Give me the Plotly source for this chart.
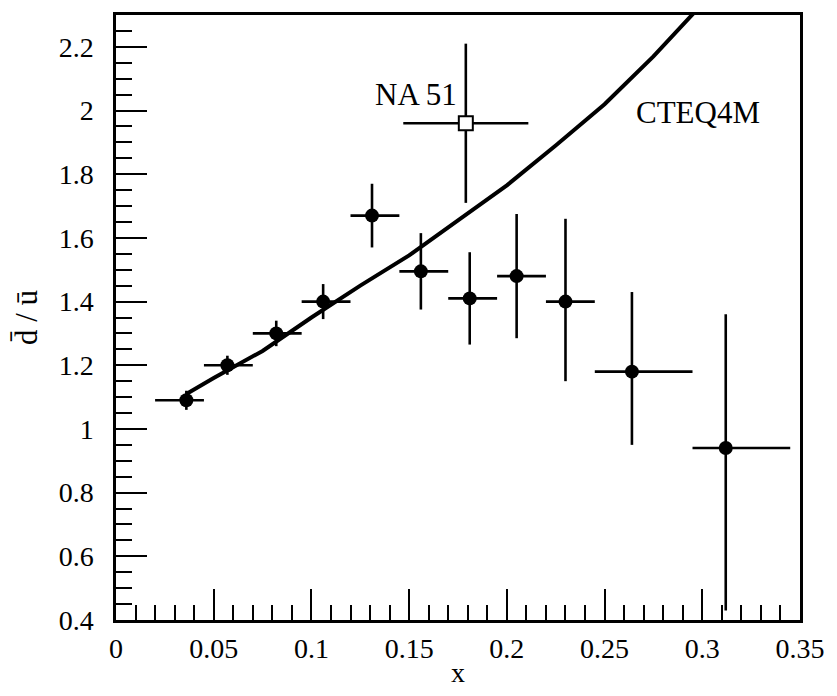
import plotly.graph_objects as go

# E866 data points
x_pts = [0.036, 0.057, 0.082, 0.106, 0.131, 0.156, 0.181, 0.205, 0.230, 0.264, 0.312]
y_pts = [1.09, 1.20, 1.30, 1.40, 1.67, 1.495, 1.41, 1.48, 1.40, 1.18, 0.94]
y_err_plus = [0.03, 0.03, 0.04, 0.055, 0.10, 0.12, 0.145, 0.195, 0.26, 0.25, 0.42]
y_err_minus = [0.03, 0.03, 0.04, 0.055, 0.10, 0.12, 0.145, 0.195, 0.25, 0.23, 0.51]
x_lo = [0.020, 0.045, 0.070, 0.095, 0.120, 0.145, 0.170, 0.195, 0.220, 0.245, 0.295]
x_hi = [0.045, 0.070, 0.095, 0.120, 0.145, 0.170, 0.195, 0.220, 0.245, 0.295, 0.345]

# NA51 point
na_x = [0.179]
na_y = [1.96]
na_yerr = [0.25]
na_xlo = [0.147]
na_xhi = [0.211]

# CTEQ4M curve
cteq_x = [0.036, 0.05, 0.075, 0.1, 0.125, 0.15, 0.175, 0.2, 0.225, 0.25, 0.275, 0.295, 0.30]
cteq_y = [1.11, 1.16, 1.245, 1.35, 1.45, 1.545, 1.655, 1.765, 1.89, 2.02, 2.17, 2.30, 2.335]

font = "Times New Roman, Times, serif"

fig = go.Figure()

fig.add_trace(go.Scatter(
    x=cteq_x, y=cteq_y, mode="lines",
    line=dict(color="black", width=4), showlegend=False))

fig.add_trace(go.Scatter(
    x=x_pts, y=y_pts, mode="markers",
    marker=dict(symbol="circle", size=14, color="black"),
    error_y=dict(type="data", symmetric=False, array=y_err_plus, arrayminus=y_err_minus,
                 color="black", thickness=2.6, width=0),
    error_x=dict(type="data", symmetric=False,
                 array=[h - c for h, c in zip(x_hi, x_pts)],
                 arrayminus=[c - l for l, c in zip(x_lo, x_pts)],
                 color="black", thickness=2.6, width=0),
    showlegend=False))

fig.add_trace(go.Scatter(
    x=na_x, y=na_y, mode="markers",
    marker=dict(symbol="square", size=14, color="white", line=dict(color="black", width=2)),
    error_y=dict(type="data", array=na_yerr, color="black", thickness=2.6, width=0),
    error_x=dict(type="data", symmetric=False,
                 array=[h - c for h, c in zip(na_xhi, na_x)],
                 arrayminus=[c - l for l, c in zip(na_xlo, na_x)],
                 color="black", thickness=2.6, width=0),
    showlegend=False))

fig.add_annotation(x=0.1535, y=2.05, text="NA 51", showarrow=False,
                   font=dict(family=font, size=31, color="black"), xanchor="center", yanchor="middle")
fig.add_annotation(x=0.298, y=1.994, text="CTEQ4M", showarrow=False,
                   font=dict(family=font, size=31, color="black"), xanchor="center", yanchor="middle")

axis_common = dict(
    showline=True, linecolor="black", linewidth=2.5, mirror=True,
    showgrid=False, zeroline=False,
    ticks="inside", ticklen=31, tickwidth=2, tickcolor="black",
    tickfont=dict(family=font, size=28, color="black"),
)

fig.update_xaxes(range=[0, 0.35], dtick=0.05, tick0=0,
                 minor=dict(ticks="inside", ticklen=15, tickwidth=2, tickcolor="black", dtick=0.01, tick0=0),
                 title=dict(text="x", font=dict(family=font, size=28, color="black"), standoff=0),
                 ticklabelstandoff=2,
                 **axis_common)
fig.update_yaxes(range=[0.4, 2.3], dtick=0.2, tick0=0.4,
                 minor=dict(ticks="inside", ticklen=16, tickwidth=2, tickcolor="black", dtick=0.05, tick0=0.4),
                 title=dict(text="d\u0304 / u\u0304", font=dict(family=font, size=31, color="black"), standoff=12),
                 ticklabelstandoff=14,
                 **axis_common)

fig.update_layout(
    width=837, height=696,
    margin=dict(l=116, r=33, t=12, b=64),
    paper_bgcolor="white", plot_bgcolor="white",
    font=dict(family=font, color="black"),
)

fig.write_html("out.html", config={"displayModeBar": False},
               post_script="document.body.style.margin='0px';")
